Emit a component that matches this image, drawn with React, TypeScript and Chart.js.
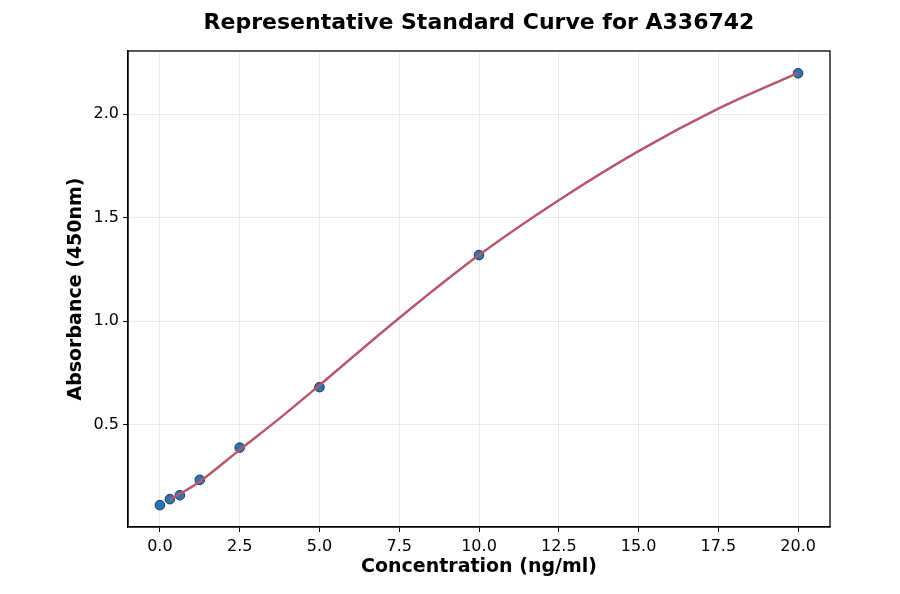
import { useEffect, useRef } from 'react'
import { Chart, registerables } from 'chart.js'

Chart.register(...registerables)

const standardConc = [0, 0.3125, 0.625, 1.25, 2.5, 5, 10, 20]
const standardOd = [0.111, 0.14, 0.159, 0.233, 0.389, 0.681, 1.319, 2.197]

// fitted curve
const curveConc = [0.3125, 0.625, 1.25, 2.5, 3.75, 5, 7.5, 10, 12.5, 15, 17.5, 20]
const curveOd = [0.138, 0.165, 0.225, 0.378, 0.53, 0.69, 1.015, 1.319, 1.584, 1.821, 2.026, 2.199]

const xTicks = [0, 2.5, 5, 7.5, 10, 12.5, 15, 17.5, 20]
const yTicks = [0.5, 1.0, 1.5, 2.0]

const FONT = "'DejaVu Sans', sans-serif"
const TITLE = 'Representative Standard Curve for A336742'

const framePlugin = {
  id: 'frame',
  afterDraw(chart: Chart) {
    const { ctx, chartArea } = chart
    ctx.save()
    ctx.strokeStyle = '#000'
    ctx.lineWidth = 1.3
    ctx.strokeRect(chartArea.left, chartArea.top, chartArea.right - chartArea.left, chartArea.bottom - chartArea.top)
    ctx.fillStyle = '#000'
    ctx.font = `bold 22px ${FONT}`
    ctx.textAlign = 'center'
    ctx.textBaseline = 'middle'
    ctx.fillText(TITLE, (chartArea.left + chartArea.right) / 2, 23)
    ctx.restore()
  },
}

export default function App() {
  const canvasRef = useRef<HTMLCanvasElement>(null)

  useEffect(() => {
    document.body.style.margin = '0'
    if (!canvasRef.current) return

    const chart = new Chart(canvasRef.current, {
      type: 'scatter',
      data: {
        datasets: [
          {
            type: 'line',
            data: curveConc.map((x, i) => ({ x, y: curveOd[i] })),
            borderColor: '#b5566b',
            borderWidth: 2.4,
            pointRadius: 0,
            tension: 0.35,
            fill: false,
            order: 0,
          },
          {
            data: standardConc.map((x, i) => ({ x, y: standardOd[i] })),
            backgroundColor: '#2b75b0',
            borderColor: '#1c3550',
            borderWidth: 1,
            pointRadius: 4.8,
            order: 1,
          },
        ],
      },
      options: {
        animation: false,
        responsive: false,
        maintainAspectRatio: false,
        layout: { padding: { left: 0, right: 70, top: 51, bottom: 0 } },
        plugins: { legend: { display: false }, tooltip: { enabled: false } },
        scales: {
          x: {
            type: 'linear',
            min: -1,
            max: 21,
            afterBuildTicks: (scale) => { scale.ticks = xTicks.map((value) => ({ value })) },
            afterFit: (scale) => { scale.height = 67 },
            ticks: {
              color: '#000',
              padding: 5,
              font: { family: FONT, size: 16 },
              callback: (v) => Number(v).toFixed(1),
            },
            grid: { color: 'rgba(0,0,0,0.08)', tickColor: '#000', tickLength: 5 },
            border: { color: '#000', width: 1.3 },
            title: {
              display: true,
              text: 'Concentration (ng/ml)',
              color: '#000',
              font: { family: FONT, size: 19, weight: 'bold', lineHeight: 1.2 },
              padding: { top: 0, bottom: 16 },
            },
          },
          y: {
            type: 'linear',
            min: 0.0055,
            max: 2.3045,
            afterBuildTicks: (scale) => { scale.ticks = yTicks.map((value) => ({ value })) },
            afterFit: (scale) => { scale.width = 128 },
            ticks: {
              color: '#000',
              padding: 4,
              font: { family: FONT, size: 16 },
              callback: (v) => Number(v).toFixed(1),
            },
            grid: { color: 'rgba(0,0,0,0.08)', tickColor: '#000', tickLength: 5 },
            border: { color: '#000', width: 1.3 },
            title: {
              display: true,
              text: 'Absorbance (450nm)',
              color: '#000',
              font: { family: FONT, size: 19, weight: 'bold', lineHeight: 1.2 },
              padding: { top: 65, bottom: 0 },
            },
          },
        },
      },
      plugins: [framePlugin],
    })

    return () => { chart.destroy() }
  }, [])

  return (
    <div style={{ width: 900, height: 594, background: '#fff' }}>
      <canvas ref={canvasRef} width={900} height={594} />
    </div>
  )
}
